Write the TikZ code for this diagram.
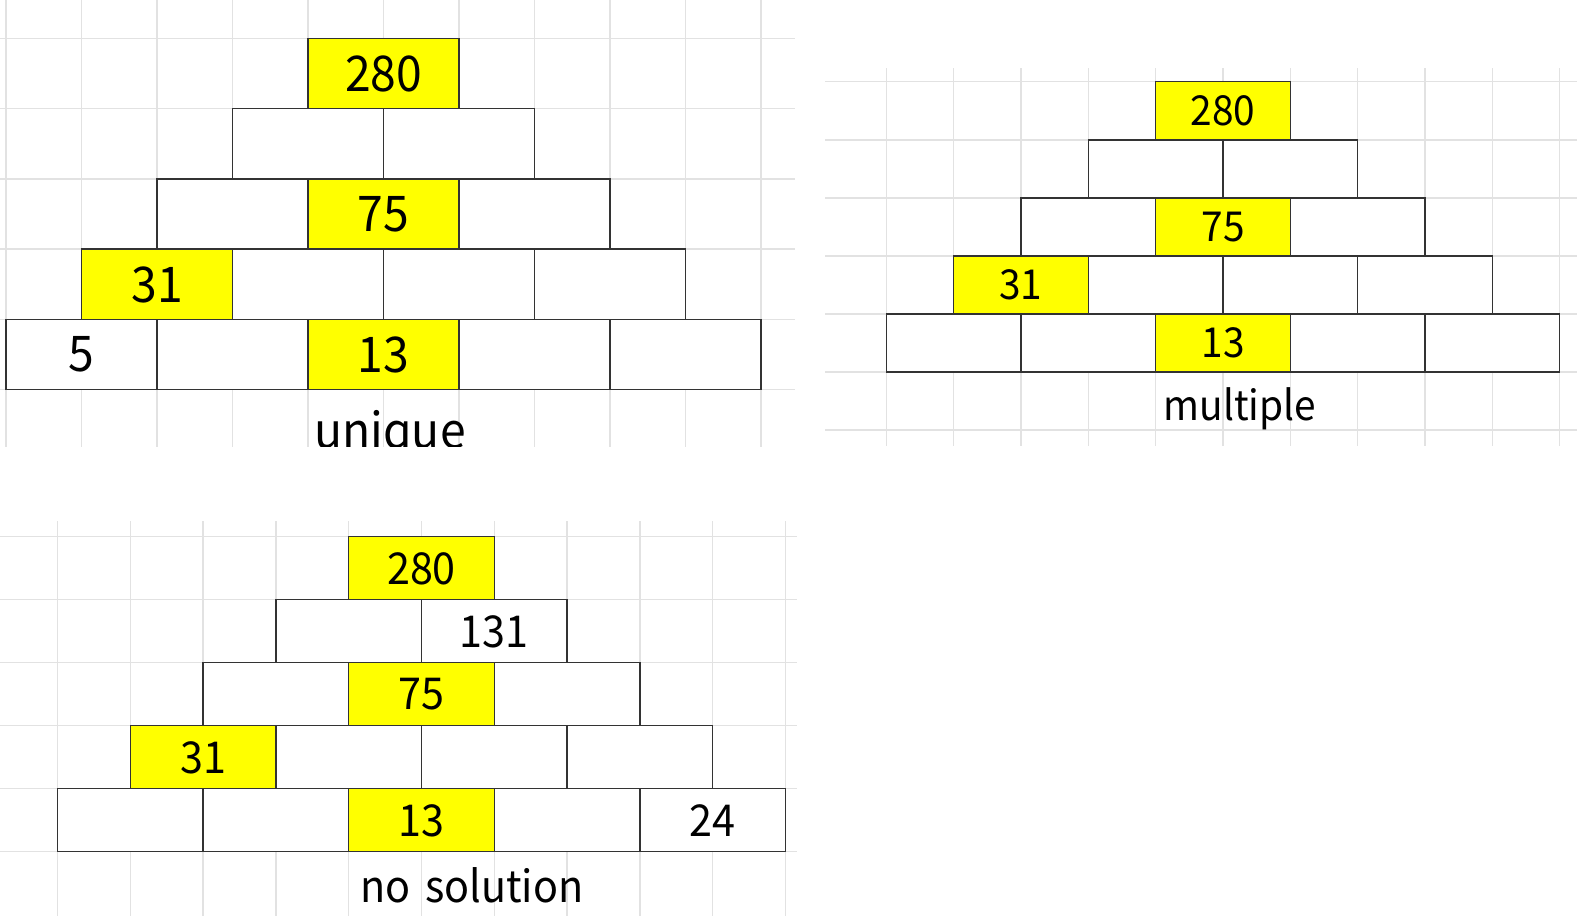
\documentclass[tikz,border=0pt]{standalone}
\usepackage{fontspec}
\usepackage{tikz}
\setmainfont[FakeStretch=0.94]{Noto Sans CJK SC}
\definecolor{gridgray}{RGB}{226, 226, 226}
\definecolor{brickline}{RGB}{51, 51, 51}
\definecolor{markyellow}{RGB}{255, 255, 0}

\tikzset{
    brick/.style={draw=brickline, line width=0.85pt, fill=white,
        minimum width=\bw, minimum height=\bh, inner sep=0pt, outer sep=0pt,
        text depth=-5pt},
    given/.style={brick, fill=markyellow},
    gridline/.style={draw=gridgray, line width=0.85pt},
}

\begin{document}
\begin{tikzpicture}[x=0.02cm, y=-0.02cm]
    \useasboundingbox[fill=white] (0,0) rectangle (1577,916);

    % unique
    \begin{scope}[font=\fontsize{28}{34}\selectfont]
        \clip (0,0) rectangle (795,446.7);
        \def\xo{6} \def\yo{38.3} \def\cw{75.5} \def\rh{70.24}
        \def\bw{3.02cm} \def\bh{1.405cm}
        \foreach \k in {0,...,10}
            \draw[gridline] ({\xo+\k*\cw},0) -- ({\xo+\k*\cw},446.7);
        \foreach \j in {0,...,5}
            \draw[gridline] (0,{\yo+\j*\rh}) -- (795,{\yo+\j*\rh});
        \foreach \r in {0,...,4}
            \foreach \c in {0,...,\r}
                \node[brick] (u\r\c) at ({\xo+(5-\r+2*\c)*\cw},{\yo+(\r+0.5)*\rh}) {};
        \node[given] (utop) at (u00) {280};
        \node[given] (umid) at (u21) {75};
        \node[given] (uleft) at (u30) {31};
        \node[brick] (ucorner) at (u40) {5};
        \node[given] (ubase) at (u42) {13};
        \node[anchor=base] (ulabel) at (390,448) {unique};
    \end{scope}

    % multiple
    \begin{scope}[font=\fontsize{23.5}{28}\selectfont]
        \def\xo{886.3} \def\yo{81.7} \def\cw{67.34} \def\rh{58.06}
        \def\bw{2.694cm} \def\bh{1.161cm}
        \foreach \k in {0,...,10}
            \draw[gridline] ({\xo+\k*\cw},68.3) -- ({\xo+\k*\cw},446);
        \foreach \j in {0,...,6}
            \draw[gridline] (825,{\yo+\j*\rh}) -- (1577,{\yo+\j*\rh});
        \foreach \r in {0,...,4}
            \foreach \c in {0,...,\r}
                \node[brick] (m\r\c) at ({\xo+(5-\r+2*\c)*\cw},{\yo+(\r+0.5)*\rh}) {};
        \node[given] (mtop) at (m00) {280};
        \node[given] (mmid) at (m21) {75};
        \node[given] (mleft) at (m30) {31};
        \node[given] (mbase) at (m42) {13};
        \node[anchor=base] (mlabel) at (1240,420) {multiple};
    \end{scope}

    % no solution
    \begin{scope}[font=\fontsize{25}{30}\selectfont]
        \def\xo{57.5} \def\yo{536.7} \def\cw{72.8} \def\rh{63}
        \def\bw{2.912cm} \def\bh{1.26cm}
        \foreach \k in {0,...,10}
            \draw[gridline] ({\xo+\k*\cw},521) -- ({\xo+\k*\cw},916);
        \foreach \j in {0,...,5}
            \draw[gridline] (0,{\yo+\j*\rh}) -- (797,{\yo+\j*\rh});
        \foreach \r in {0,...,4}
            \foreach \c in {0,...,\r}
                \node[brick] (n\r\c) at ({\xo+(5-\r+2*\c)*\cw},{\yo+(\r+0.5)*\rh}) {};
        \node[given] (ntop) at (n00) {280};
        \node[brick] (nright) at (n11) {131};
        \node[given] (nmid) at (n21) {75};
        \node[given] (nleft) at (n30) {31};
        \node[given] (nbase) at (n42) {13};
        \node[brick] (ncorner) at (n44) {24};
        \node[anchor=base] (nlabel) at (472,902) {no\hspace{0.12em} solution};
    \end{scope}
\end{tikzpicture}
\end{document}
